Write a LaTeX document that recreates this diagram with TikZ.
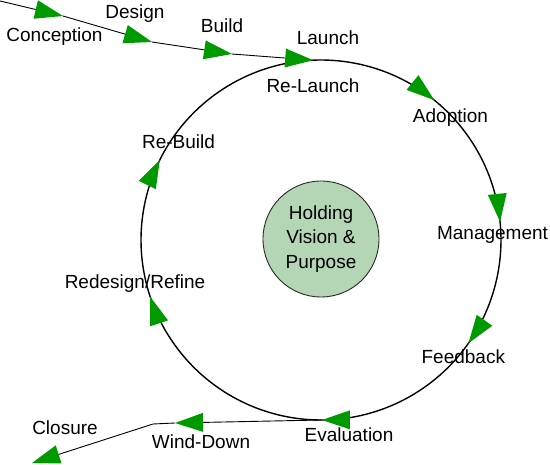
\documentclass[tikz,border=0pt]{standalone}
\usepackage{fontspec}
\setmainfont{Liberation Sans}
\usetikzlibrary{arrows.meta,calc}
\definecolor{arrowgreen}{RGB}{0,153,0}
\definecolor{holdfill}{RGB}{181,214,181}
\definecolor{holdline}{RGB}{40,40,40}
\begin{document}
\begin{tikzpicture}[x=1pt,y=1pt,
  lbl/.style={anchor=base, inner sep=0pt, font=\fontsize{19}{24.7}\selectfont},
  greentip/.style={-{Triangle[length=28pt,width=19pt,color=arrowgreen,line width=0pt]}},
  flow/.style={draw=black, line width=0.9pt},
  flowarrow/.style={flow, greentip},
  ring/.style={draw=black, line width=1.4pt},
  ringtip/.style={greentip, draw=arrowgreen, line width=0.1pt},
  hub/.style={circle, draw=holdline, line width=0.9pt, fill=holdfill, minimum size=116pt, inner sep=0pt, align=center, font=\fontsize{19}{24.7}\selectfont}]
\useasboundingbox (0,-465) rectangle (550,0);
% centre of the loop
\coordinate (O) at (321,-240);
% points on the loop
\coordinate (L) at ($(O)+(92.5:180)$);
\coordinate (A) at ($(O)+(51:180)$);
\coordinate (M) at ($(O)+(5.8:180)$);
\coordinate (F) at ($(O)+(-35:180)$);
\coordinate (E) at ($(O)+(-89.7:180)$);
\coordinate (R) at ($(O)+(-161.6:180)$);
\coordinate (B) at ($(O)+(153.6:180)$);
% points on the straight lines
\coordinate (S) at (0,-1);
\coordinate (C1) at (63,-16);
\coordinate (D1) at (152,-42);
\coordinate (B1) at (232,-54);
\coordinate (W) at (175,-423);
\coordinate (K) at (153,-424);
\coordinate (Z) at (32,-463);
% hub
\node[hub] (hv) at (321,-239) {Holding\\Vision \&\\Purpose};
% loop arcs
\draw[ring] (B) arc[start angle=153.6, end angle=92.5, radius=180];
\draw[ring] (L) arc[start angle=92.5, end angle=51, radius=180];
\draw[ring] (A) arc[start angle=51, end angle=5.8, radius=180];
\draw[ring] (M) arc[start angle=5.8, end angle=-35, radius=180];
\draw[ring] (F) arc[start angle=-35, end angle=-89.7, radius=180];
\draw[ring] (E) arc[start angle=-89.7, end angle=-161.6, radius=180];
\draw[ring] (R) arc[start angle=198.4, end angle=153.6, radius=180];
% arrowheads on the loop, along its tangent
\draw[ringtip] ($(A)+(141:1)$) -- (A);
\draw[ringtip] ($(M)+(95.8:1)$) -- (M);
\draw[ringtip] ($(F)+(55:1)$) -- (F);
\draw[ringtip] ($(E)+(0.3:1)$) -- (E);
\draw[ringtip] ($(R)+(-71.6:1)$) -- (R);
\draw[ringtip] ($(B)+(243.6:1)$) -- (B);
% entry line
\draw[flowarrow] (S) -- (C1);
\draw[flowarrow] (C1) -- (D1);
\draw[flowarrow] (D1) -- (B1);
\draw[flowarrow] (B1) -- (L);
% exit line
\draw[flowarrow] (E) -- (W);
\draw[flowarrow] (W) -- (K) -- (Z);
% labels
\node[lbl] (tConception) at (54.5,-41.7) {Conception};
\node[lbl] (tDesign) at (135,-18.5) {Design};
\node[lbl] (tBuild) at (222,-32.3) {Build};
\node[lbl] (tLaunch) at (328,-44.5) {Launch};
\node[lbl] (tReLaunch) at (313,-93) {Re-Launch};
\node[lbl] (tAdoption) at (450.5,-122.3) {Adoption};
\node[lbl] (tManagement) at (492.5,-240) {Management};
\node[lbl] (tFeedback) at (463.3,-363.3) {Feedback};
\node[lbl] (tEvaluation) at (349,-441.7) {Evaluation};
\node[lbl] (tWindDown) at (201,-448.3) {Wind-Down};
\node[lbl] (tClosure) at (65,-435) {Closure};
\node[lbl] (tReBuild) at (178.5,-149) {Re-Build};
\node[lbl] (tRedesign) at (135,-289) {Redesign/Refine};
\end{tikzpicture}
\end{document}
